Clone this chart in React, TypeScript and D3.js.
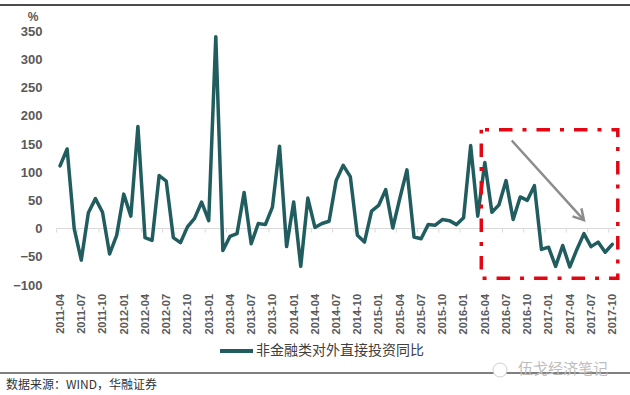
import React, { useEffect, useRef } from 'react';
import * as d3 from 'd3';

// monthly categories, 2011-04 .. 2017-10
const months = [
  '2011-04', '2011-05', '2011-06', '2011-07', '2011-08', '2011-09', '2011-10', '2011-11', '2011-12',
  '2012-01', '2012-02', '2012-03', '2012-04', '2012-05', '2012-06', '2012-07', '2012-08', '2012-09', '2012-10', '2012-11', '2012-12',
  '2013-01', '2013-02', '2013-03', '2013-04', '2013-05', '2013-06', '2013-07', '2013-08', '2013-09', '2013-10', '2013-11', '2013-12',
  '2014-01', '2014-02', '2014-03', '2014-04', '2014-05', '2014-06', '2014-07', '2014-08', '2014-09', '2014-10', '2014-11', '2014-12',
  '2015-01', '2015-02', '2015-03', '2015-04', '2015-05', '2015-06', '2015-07', '2015-08', '2015-09', '2015-10', '2015-11', '2015-12',
  '2016-01', '2016-02', '2016-03', '2016-04', '2016-05', '2016-06', '2016-07', '2016-08', '2016-09', '2016-10', '2016-11', '2016-12',
  '2017-01', '2017-02', '2017-03', '2017-04', '2017-05', '2017-06', '2017-07', '2017-08', '2017-09', '2017-10',
];

// 非金融类对外直接投资同比 (%)
const odiYoy = [
  111, 141, 0, -56, 28, 53, 29, -45, -12,
  61, 22, 181, -16, -21, 94, 84, -16, -25, 3, 18, 47,
  14, 340, -39, -14, -9, 64, -27, 9, 7, 38, 146, -32,
  47, -67, 54, 2, 9, 13, 85, 112, 92, -12, -24, 31,
  41, 69, 1, 54, 104, -15, -18, 7, 6, 16, 14, 7,
  19, 147, 22, 117, 29, 42, 85, 16, 56, 50, 76, -37,
  -33, -67, -30, -68, -37, -9, -32, -24, -42, -28,
];

const xTickLabels = months.filter((_, i) => i % 3 === 0);
const yTicks = [-100, -50, 0, 50, 100, 150, 200, 250, 300, 350];

const seriesName = '非金融类对外直接投资同比';
const sourceText = '数据来源：WIND，华融证券';
const watermark = '伍戈经济笔记';

// annotation (red box + arrow), in data terms
const boxFrom = '2016-04';
const boxTo = '2017-10';
const boxTop = 175;
const boxBottom = -88;
const arrowFrom = { m: '2016-07', off: 0.8, v: 156 };
const arrowTo = { m: '2017-06', off: 0, v: 15 };

const W = 630;
const H = 395;
const teal = '#215d5f';
const labelFont = '"Liberation Sans", Arial, sans-serif';
const cjkFont = '"Noto Sans CJK SC", sans-serif';

const App = () => {
  const ref = useRef<SVGSVGElement>(null);

  useEffect(() => {
    document.body.style.margin = '0';
    const svg = d3.select(ref.current);
    svg.selectAll('*').remove();

    const x = d3.scaleBand().domain(months).range([56.5, 615.8]).padding(0);
    const bw = x.bandwidth();
    const cx = (m: string, off = 0) => (x(m) as number) + bw / 2 + off * bw;
    const y = d3.scaleLinear().domain([-100, 350]).range([285, 31]);

    // top black rule
    svg.append('line')
      .attr('x1', 0).attr('x2', W).attr('y1', 5).attr('y2', 5)
      .attr('stroke', '#111').attr('stroke-width', 1.5);

    // y axis labels
    const yAxis = svg.append('g')
      .attr('transform', 'translate(56.5,0)')
      .call(d3.axisLeft(y).tickValues(yTicks).tickSize(0).tickPadding(14));
    yAxis.select('.domain').remove();
    yAxis.selectAll('text')
      .attr('font-family', labelFont)
      .attr('font-size', 13)
      .attr('font-weight', 'bold')
      .attr('fill', '#595959');

    svg.append('text')
      .attr('x', 33).attr('y', 17.5)
      .attr('text-anchor', 'middle').attr('dominant-baseline', 'middle')
      .attr('font-family', labelFont).attr('font-size', 12).attr('font-weight', 'bold')
      .attr('fill', '#595959')
      .text('%');

    // zero line with tick marks between categories
    const [x0, x1] = x.range();
    svg.append('line')
      .attr('x1', x0).attr('x2', x1).attr('y1', y(0)).attr('y2', y(0))
      .attr('stroke', '#d9d9d9').attr('stroke-width', 1);
    svg.append('g')
      .selectAll('line')
      .data(xTickLabels)
      .join('line')
      .attr('x1', (d) => x(d) as number).attr('x2', (d) => x(d) as number)
      .attr('y1', y(0)).attr('y2', y(0) + 4)
      .attr('stroke', '#d9d9d9').attr('stroke-width', 1);

    // x labels at bottom
    const xAxis = svg.append('g')
      .attr('transform', 'translate(0,294)')
      .call(d3.axisBottom(x).tickValues(xTickLabels).tickSize(0));
    xAxis.select('.domain').remove();
    xAxis.selectAll('text')
      .attr('transform', 'rotate(-90)')
      .attr('x', 0).attr('y', 0).attr('dy', '0.35em')
      .attr('text-anchor', 'end')
      .attr('font-family', labelFont)
      .attr('font-size', 11)
      .attr('font-weight', 'bold')
      .attr('fill', '#595959');

    // series line
    const line = d3.line<number>()
      .x((_, i) => cx(months[i]))
      .y((d) => y(d));
    svg.append('path')
      .datum(odiYoy)
      .attr('d', line)
      .attr('fill', 'none')
      .attr('stroke', teal)
      .attr('stroke-width', 3.5)
      .attr('stroke-linejoin', 'round')
      .attr('stroke-linecap', 'round');

    // red dash-dot box
    const bx0 = x(boxFrom) as number;
    const bx1 = (x(boxTo) as number) + bw + 2;
    const by0 = y(boxTop);
    const by1 = y(boxBottom);
    svg.append('path')
      .attr('d', `M${bx0},${by0}H${bx1}V${by1}H${bx0}Z`)
      .attr('fill', 'none')
      .attr('stroke', '#e30613')
      .attr('stroke-width', 3.5)
      .attr('stroke-dasharray', '4 10 13.5 10')
      .attr('stroke-dashoffset', 33.8);

    // gray arrow
    const ax0 = cx(arrowFrom.m, arrowFrom.off), ay0 = y(arrowFrom.v);
    const ax1 = cx(arrowTo.m, arrowTo.off), ay1 = y(arrowTo.v);
    const ang = Math.atan2(ay1 - ay0, ax1 - ax0);
    const head = 12, spread = Math.PI / 6;
    svg.append('line')
      .attr('x1', ax0).attr('y1', ay0).attr('x2', ax1).attr('y2', ay1)
      .attr('stroke', '#8c8c8c').attr('stroke-width', 2.5);
    svg.append('path')
      .attr('d', `M${ax1 - head * Math.cos(ang - spread)},${ay1 - head * Math.sin(ang - spread)}L${ax1},${ay1}L${ax1 - head * Math.cos(ang + spread)},${ay1 - head * Math.sin(ang + spread)}`)
      .attr('fill', 'none').attr('stroke', '#8c8c8c').attr('stroke-width', 2.5);

    // legend
    svg.append('line')
      .attr('x1', 220).attr('x2', 253).attr('y1', 351).attr('y2', 351)
      .attr('stroke', teal).attr('stroke-width', 4);
    svg.append('text')
      .attr('x', 256).attr('y', 351)
      .attr('dominant-baseline', 'middle')
      .attr('font-family', cjkFont).attr('font-size', 14)
      .attr('fill', '#404040')
      .text(seriesName);

    // footer
    svg.append('line')
      .attr('x1', 0).attr('x2', W).attr('y1', 373).attr('y2', 373)
      .attr('stroke', '#7f7f7f').attr('stroke-width', 2);
    svg.append('circle')
      .attr('cx', 500).attr('cy', 370).attr('r', 7)
      .attr('fill', '#fff').attr('stroke', '#d0d0d0').attr('stroke-width', 1);
    svg.append('text')
      .attr('x', 518).attr('y', 370)
      .attr('dominant-baseline', 'middle')
      .attr('font-family', cjkFont).attr('font-size', 15)
      .attr('fill', '#bdbdbd')
      .text(watermark);
    svg.append('text')
      .attr('x', 6).attr('y', 386)
      .attr('dominant-baseline', 'middle')
      .attr('font-family', cjkFont).attr('font-size', 12)
      .attr('fill', '#333')
      .text(sourceText);
  }, []);

  return (
    <svg
      ref={ref}
      width={W}
      height={H}
      style={{ position: 'absolute', left: 0, top: 0, display: 'block', background: '#fff' }}
    />
  );
};

export default App;
